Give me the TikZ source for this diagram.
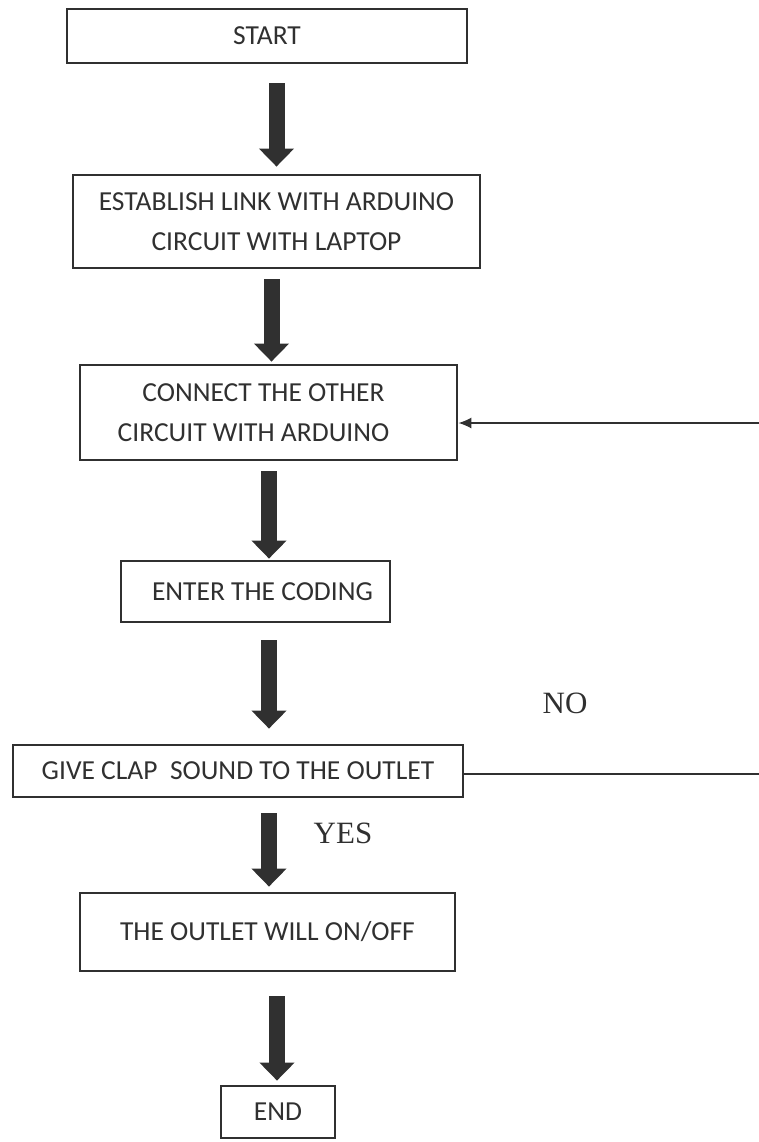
\documentclass[tikz,border=0pt]{standalone}
\usepackage{fontspec}
\setmainfont{Carlito}
\newfontfamily\yesnofont{Liberation Serif}
\usetikzlibrary{arrows.meta, positioning, calc}
\definecolor{ink}{HTML}{303030}

\begin{document}
\begin{tikzpicture}[x=1pt, y=-1pt,
  box/.style={draw=ink, line width=2.8pt, inner sep=0pt, align=center,
    font=\fontsize{27.5}{40}\selectfont, text=ink},
  bigarrow/.style={draw=ink, line width=16pt, -{Triangle[width=34pt, length=18pt]}},
  thinline/.style={draw=ink, line width=1.4pt},
  yesno/.style={font=\yesnofont\fontsize{31}{34}\selectfont, text=ink}]
\useasboundingbox (0,0) rectangle (759,1142);
\node[box, minimum width=400pt, minimum height=54pt] (start) at (267,36) {START};
\node[box, minimum width=407pt, minimum height=93pt] (link) at (276.5,221.5) {ESTABLISH LINK WITH ARDUINO\\CIRCUIT WITH LAPTOP};
\node[box, minimum width=377pt, minimum height=95pt] (connect) at (268.5,412.5) {CONNECT THE OTHER\hspace*{10pt}\\CIRCUIT WITH ARDUINO\hspace*{30pt}};
\node[box, minimum width=269pt, minimum height=61pt] (coding) at (255.5,591.5) {\hspace*{14pt}ENTER THE CODING};
\node[box, minimum width=450pt, minimum height=52pt] (clap) at (238,771) {GIVE CLAP\ \ SOUND TO THE OUTLET};
\node[box, minimum width=375pt, minimum height=78pt] (outlet) at (267.5,932) {THE OUTLET WILL ON/OFF};
\node[box, minimum width=114pt, minimum height=52pt] (finish) at (278,1112) {END};
\node[yesno] (no) at (565,703) {NO};
\node[yesno] (yes) at (343,833) {YES};
% main flow
\draw[bigarrow, shorten <=19pt, shorten >=7pt] ([xshift=9.5pt]start.south) -- (link.north);
\draw[bigarrow, shorten <=10pt, shorten >=2pt] ([xshift=-5pt]link.south) -- ([xshift=3pt]connect.north);
\draw[bigarrow, shorten <=10pt, shorten >=1pt] ([xshift=0.5pt]connect.south) -- ([xshift=13.5pt]coding.north);
\draw[bigarrow, shorten <=17pt, shorten >=15pt] ([xshift=13.5pt]coding.south) -- ([xshift=31pt]clap.north);
\draw[bigarrow, shorten <=15pt, shorten >=5pt] ([xshift=31pt]clap.south) -- ([xshift=1.5pt]outlet.north);
\draw[bigarrow, shorten <=24pt, shorten >=4pt] ([xshift=9.5pt]outlet.south) -- ([xshift=-1pt]finish.north);
% loop back
\coordinate (noout) at (759,768);
\coordinate (noin) at (759,423);
\draw[thinline] ([yshift=-3pt]clap.east) -- ([yshift=-3pt]clap.east -| noout);
\draw[thinline, -{Latex[length=13pt, width=11pt]}] (noin) -- (connect.east |- noin);
\end{tikzpicture}
\end{document}
